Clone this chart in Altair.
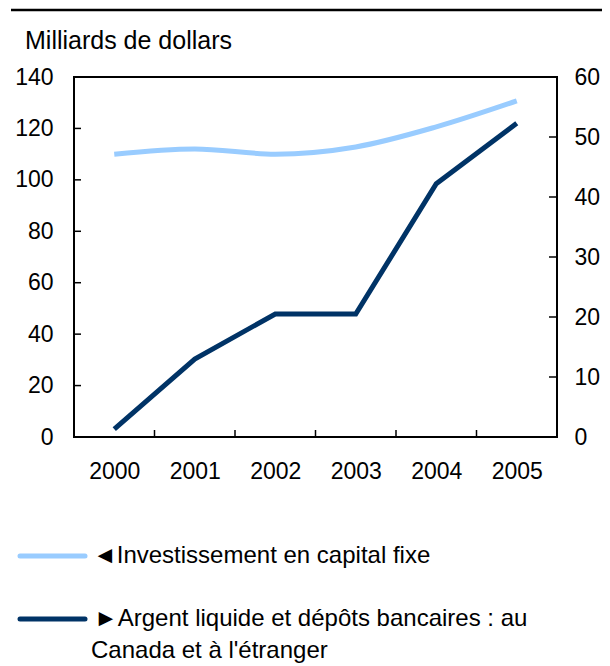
import altair as alt
import pandas as pd

# ---- data ----
years = [2000, 2001, 2002, 2003, 2004, 2005]
investissement = [110.0, 112.0, 110.0, 112.8, 120.6, 130.7]   # left axis (◄)
argent = [1.3, 13.0, 20.5, 20.5, 42.2, 52.3]                  # right axis (►)

left_labels = [0, 20, 40, 60, 80, 100, 120, 140]
right_labels = [0, 10, 20, 30, 40, 50, 60]
left_inner_ticks = [20, 40, 60, 80, 100, 120]
right_inner_ticks = [10, 20, 30, 40, 50]
year_boundaries = [2000.5, 2001.5, 2002.5, 2003.5, 2004.5]

title_text = "Milliards de dollars"
legend_invest = "◄Investissement en capital fixe"
legend_argent_1 = "►Argent liquide et dépôts bancaires : au"
legend_argent_2 = "Canada et à l'étranger"

light = "#99CCFF"
dark = "#003366"
FONT = "Liberation Sans"

W, H = 483, 360

df = pd.DataFrame({"annee": years, "invest": investissement, "argent": argent})

x_enc = alt.X(
    "annee:Q",
    scale=alt.Scale(domain=[1999.5, 2005.5], nice=False, zero=False),
    axis=alt.Axis(values=years, format="d", ticks=False, tickSize=0, domain=False,
                  grid=False, labelPadding=23, title=None),
)

line_invest = alt.Chart(df).mark_line(
    color=light, strokeWidth=5, interpolate="monotone"
).encode(
    x=x_enc,
    y=alt.Y("invest:Q", scale=alt.Scale(domain=[0, 140], nice=False),
            axis=alt.Axis(orient="left", values=left_labels, ticks=False, tickSize=0,
                          domain=False, grid=False, labelPadding=21, title=None)),
)

line_argent = alt.Chart(df).mark_line(
    color=dark, strokeWidth=5, strokeJoin="miter"
).encode(
    x=x_enc,
    y=alt.Y("argent:Q", scale=alt.Scale(domain=[0, 60], nice=False),
            axis=alt.Axis(orient="right", values=right_labels, ticks=False, tickSize=0,
                          domain=False, grid=False, labelPadding=17, title=None)),
)

ticks_left = alt.Chart(pd.DataFrame({"v": left_inner_ticks})).mark_rule(
    color="black", strokeWidth=1.5
).encode(
    y=alt.Y("v:Q", scale=alt.Scale(domain=[0, 140], nice=False), axis=None),
    x=alt.value(0), x2=alt.value(7),
)

ticks_right = alt.Chart(pd.DataFrame({"w": right_inner_ticks})).mark_rule(
    color="black", strokeWidth=1.5
).encode(
    y=alt.Y("w:Q", scale=alt.Scale(domain=[0, 60], nice=False), axis=None),
    x=alt.value(W - 8), x2=alt.value(W),
)

ticks_bottom = alt.Chart(pd.DataFrame({"annee": year_boundaries})).mark_rule(
    color="black", strokeWidth=1.5
).encode(
    x=x_enc,
    y=alt.value(H - 7), y2=alt.value(H),
)

top_rule = alt.Chart(pd.DataFrame({"k": [0]})).mark_rule(
    color="black", strokeWidth=2.5
).encode(x=alt.value(-63), x2=alt.value(540), y=alt.value(-67))

title = alt.Chart(pd.DataFrame({"t": [title_text]})).mark_text(
    align="left", baseline="middle", fontSize=25, font=FONT, color="black"
).encode(text="t:N", x=alt.value(-49), y=alt.value(-36))

leg_line_1 = alt.Chart(pd.DataFrame({"k": [0]})).mark_rule(
    color=light, strokeWidth=5, strokeCap="round"
).encode(x=alt.value(-54), x2=alt.value(11), y=alt.value(479))

leg_line_2 = alt.Chart(pd.DataFrame({"k": [0]})).mark_rule(
    color=dark, strokeWidth=5, strokeCap="round"
).encode(x=alt.value(-54), x2=alt.value(11), y=alt.value(542))

leg_text_1 = alt.Chart(pd.DataFrame({"t": [legend_invest]})).mark_text(
    align="left", baseline="middle", fontSize=24, font=FONT, color="black"
).encode(text="t:N", x=alt.value(19), y=alt.value(479))

leg_text_2 = alt.Chart(pd.DataFrame({"t": [legend_argent_1]})).mark_text(
    align="left", baseline="middle", fontSize=24, font=FONT, color="black"
).encode(text="t:N", x=alt.value(20), y=alt.value(542))

leg_text_3 = alt.Chart(pd.DataFrame({"t": [legend_argent_2]})).mark_text(
    align="left", baseline="middle", fontSize=24, font=FONT, color="black"
).encode(text="t:N", x=alt.value(17), y=alt.value(574))

chart = alt.layer(
    line_invest, line_argent, ticks_left, ticks_right, ticks_bottom,
    top_rule, title, leg_line_1, leg_line_2, leg_text_1, leg_text_2, leg_text_3,
).resolve_scale(
    y="independent"
).resolve_axis(
    y="independent"
).properties(
    width=W, height=H,
    autosize=alt.AutoSizeParams(type="none"),
    padding={"left": 66, "top": 69, "right": 45, "bottom": 233},
).configure_view(
    stroke="black", strokeWidth=2
).configure_axis(
    labelFont=FONT, labelFontSize=23, labelColor="black"
)

chart.save("out.html", embed_options={"renderer": "svg", "actions": False})
